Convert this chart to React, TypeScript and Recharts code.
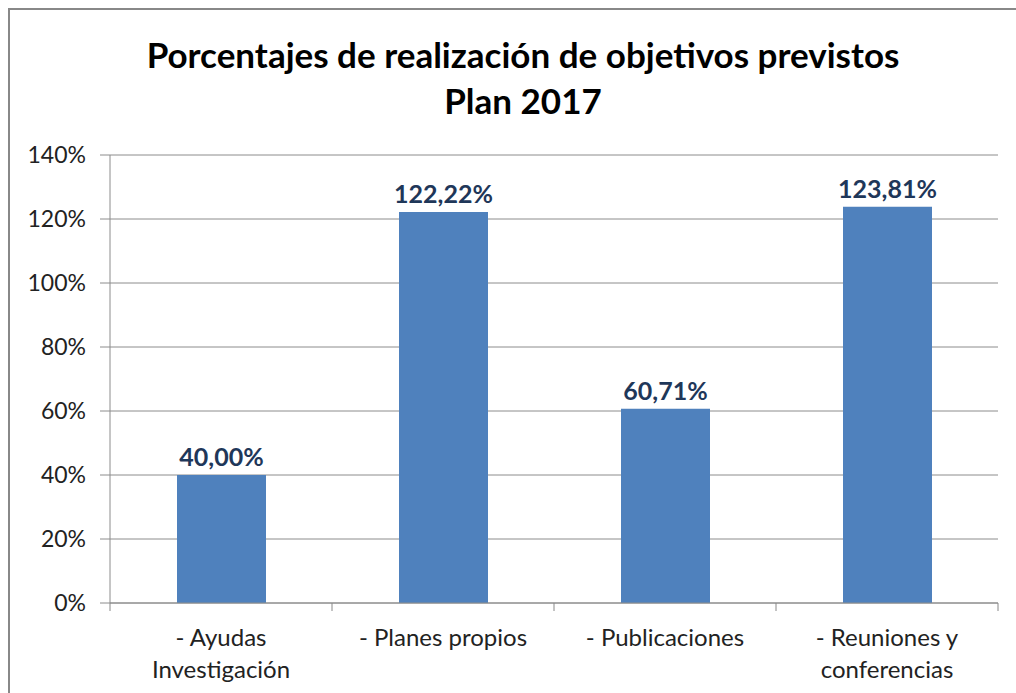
import React from "react";
import { BarChart, Bar, XAxis, YAxis, CartesianGrid, LabelList } from "recharts";

const categories = [
  "- Ayudas|Investigación",
  "- Planes propios",
  "- Publicaciones",
  "- Reuniones y|conferencias",
];
const percentages = [40.0, 122.22, 60.71, 123.81];
const yTicks = [0, 20, 40, 60, 80, 100, 120, 140];

const data = categories.map((name, i) => ({ name, value: percentages[i] }));

const FONT = "Lato, 'Open Sans', sans-serif";
const CHART_W = 1006;
const CHART_H = 683;
const LEFT = 100;
const RIGHT = 18;
const BAND = (CHART_W - LEFT - RIGHT) / categories.length;

const CategoryTick = (props: any) => {
  const { x, y, payload, index } = props;
  const lines = String(payload.value).split("|");
  return (
    <g>
      {index === 0 && (
        <line x1={x - BAND / 2} x2={x - BAND / 2} y1={y - 8} y2={y} stroke="#888" />
      )}
      <line x1={x + BAND / 2} x2={x + BAND / 2} y1={y - 8} y2={y} stroke="#888" />
      {lines.map((t, i) => (
        <text
          key={i}
          x={x}
          y={y + 35 + i * 32}
          textAnchor="middle"
          fontFamily={FONT}
          fontSize={24}
          fill="#222"
        >
          {t}
        </text>
      ))}
    </g>
  );
};

const fmt = (v: any) => Number(v).toFixed(2).replace(".", ",") + "%";

export default function App() {
  return (
    <div
      style={{
        position: "fixed",
        left: 0,
        top: 0,
        width: 1016,
        height: 693,
        overflow: "hidden",
        background: "#fff",
      }}
    >
      <div
        style={{
          position: "absolute",
          left: 8,
          top: 8,
          width: 1030,
          height: 700,
          borderTop: "2px solid #888",
          borderLeft: "2px solid #888",
        }}
      >
        <div
          style={{
            position: "absolute",
            left: 0,
            width: 1026,
            top: 21,
            textAlign: "center",
            fontFamily: FONT,
            fontWeight: 700,
            fontSize: 35,
            lineHeight: "46px",
            color: "#000",
          }}
        >
          Porcentajes de realización de objetivos previstos
          <br />
          Plan 2017
        </div>
        <BarChart
          width={CHART_W}
          height={CHART_H}
          data={data}
          margin={{ top: 145, right: RIGHT, bottom: 0, left: 0 }}
        >
          <CartesianGrid vertical={false} stroke="#8c8c8c" />
          <XAxis
            dataKey="name"
            tick={<CategoryTick />}
            tickLine={false}
            axisLine={{ stroke: "#8c8c8c" }}
            interval={0}
            height={90}
          />
          <YAxis
            domain={[0, 140]}
            ticks={yTicks}
            width={LEFT}
            tickSize={10}
            tickMargin={14}
            tickLine={{ stroke: "#8c8c8c" }}
            axisLine={{ stroke: "#8c8c8c" }}
            tickFormatter={(v) => `${v}%`}
            tick={{ fontFamily: FONT, fontSize: 23, fill: "#222" }}
          />
          <Bar dataKey="value" fill="#4f81bd" isAnimationActive={false} barSize={89}>
            <LabelList
              dataKey="value"
              position="top"
              offset={9}
              formatter={fmt}
              style={{ fontFamily: FONT, fontSize: 25, fontWeight: 700, fill: "#1f3759" }}
            />
          </Bar>
        </BarChart>
      </div>
    </div>
  );
}
